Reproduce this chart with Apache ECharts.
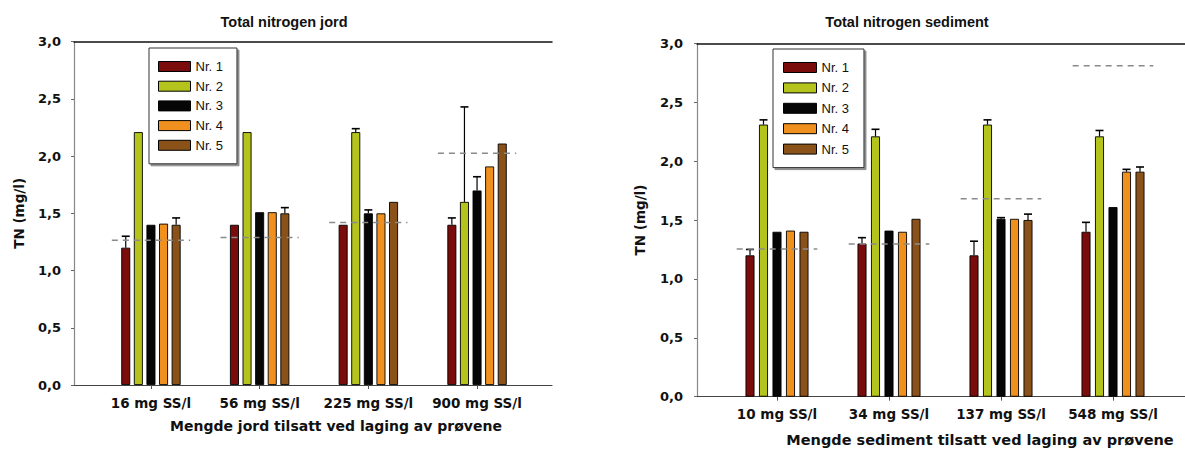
<!DOCTYPE html>
<html><head><meta charset="utf-8">
<script src="https://cdn.jsdelivr.net/npm/echarts@6/dist/echarts.min.js"></script>
<style>html,body{margin:0;padding:0;background:#fff}#c{width:1185px;height:450px}</style>
</head><body><div id="c"></div>
<script>
// ---------- DATA ----------
const seriesNames = ['Nr. 1', 'Nr. 2', 'Nr. 3', 'Nr. 4', 'Nr. 5'];
const jordCategories = ['16 mg SS/l', '56 mg SS/l', '225 mg SS/l', '900 mg SS/l'];
const sedCategories = ['10 mg SS/l', '34 mg SS/l', '137 mg SS/l', '548 mg SS/l'];
const yTickValues = [0, 0.5, 1.0, 1.5, 2.0, 2.5, 3.0];

const jordNr1 = [1.20, 1.40, 1.40, 1.40];
const jordNr2 = [2.21, 2.21, 2.21, 1.60];
const jordNr3 = [1.40, 1.51, 1.50, 1.70];
const jordNr4 = [1.41, 1.51, 1.50, 1.91];
const jordNr5 = [1.40, 1.50, 1.60, 2.11];
const jordErr1 = [1.30, null, null, 1.46];
const jordErr2 = [null, null, 2.24, 2.43];
const jordErr3 = [null, null, 1.53, 1.82];
const jordErr4 = [null, null, null, null];
const jordErr5 = [1.46, 1.55, null, null];
const jordMean = [1.265, 1.29, 1.42, 2.025];

const sedNr1 = [1.20, 1.30, 1.20, 1.40];
const sedNr2 = [2.31, 2.21, 2.31, 2.21];
const sedNr3 = [1.40, 1.41, 1.51, 1.61];
const sedNr4 = [1.41, 1.40, 1.51, 1.91];
const sedNr5 = [1.40, 1.51, 1.50, 1.91];
const sedErr1 = [1.25, 1.35, 1.32, 1.48];
const sedErr2 = [2.35, 2.27, 2.35, 2.26];
const sedErr3 = [null, null, 1.52, null];
const sedErr4 = [null, null, null, 1.93];
const sedErr5 = [null, null, 1.55, 1.95];
const sedMean = [1.254, 1.296, 1.68, 2.81];

// ---------- STYLE ----------
const colors = ['#7a0c0c', '#b4c41c', '#060606', '#f0901e', '#8a5218'];
const BOLD = '"DejaVu Sans", sans-serif';
const ARIAL = '"Liberation Sans", Arial, sans-serif';

const jordVals = [jordNr1, jordNr2, jordNr3, jordNr4, jordNr5];
const jordErrs = [jordErr1, jordErr2, jordErr3, jordErr4, jordErr5];
const sedVals = [sedNr1, sedNr2, sedNr3, sedNr4, sedNr5];
const sedErrs = [sedErr1, sedErr2, sedErr3, sedErr4, sedErr5];

function yFmt(v) { return v.toFixed(1).replace('.', ','); }

function frameX(grid, top) {
  return {
    gridIndex: grid, type: 'value', min: 0, max: 1, position: top ? 'top' : 'bottom',
    axisLine: { show: true, onZero: false, lineStyle: { color: top ? '#111' : '#444', width: top ? 1.5 : 1.2 } },
    axisTick: { show: false }, axisLabel: { show: false }, splitLine: { show: false }
  };
}
function catX(grid, cats, margin, fs) {
  return {
    gridIndex: grid, type: 'category', data: cats,
    axisLine: { show: false },
    axisTick: { show: true, alignWithLabel: true, length: 4, lineStyle: { color: '#555' } },
    axisLabel: { interval: 0, hideOverlap: false, margin: margin, fontFamily: BOLD, fontWeight: 'bold', fontSize: fs, color: '#111' },
    splitLine: { show: false }
  };
}
function frameY(grid, gap, margin) {
  return {
    gridIndex: grid, type: 'value', min: 0, max: 3, interval: 0.5,
    axisLine: { show: true, onZero: false, lineStyle: { color: '#888', width: 1.2 } },
    axisTick: { show: true, length: 3, lineStyle: { color: '#666' } },
    axisLabel: { margin: margin, formatter: yFmt, fontFamily: BOLD, fontWeight: 'bold', fontSize: 13, color: '#111' },
    splitLine: { show: false },
    name: 'TN (mg/l)', nameLocation: 'middle', nameGap: gap,
    nameTextStyle: { fontFamily: BOLD, fontWeight: 'bold', fontSize: 13.5, color: '#111' }
  };
}
function hiddenY(grid) {
  return { gridIndex: grid, type: 'value', min: 0, max: 3, show: false };
}

function barSeries(vals, xi, yi, gap) {
  return vals.map((arr, k) => ({
    name: seriesNames[k], type: 'bar', xAxisIndex: xi, yAxisIndex: yi,
    data: arr, barWidth: 9, barGap: gap,
    itemStyle: { color: colors[k], borderColor: '#000', borderWidth: 0.9 },
    z: 3
  }));
}

function errSeries(vals, errs, xi, yi, pitch) {
  const data = [];
  errs.forEach((arr, k) => arr.forEach((t, i) => {
    if (t !== null) data.push([i, k, vals[k][i], t]);
  }));
  return {
    type: 'custom', xAxisIndex: xi, yAxisIndex: yi, z: 5,
    encode: { x: 0, y: [2, 3] },
    data: data,
    renderItem: function (params, api) {
      const i = api.value(0), k = api.value(1), v = api.value(2), t = api.value(3);
      const b = api.coord([i, v]), e = api.coord([i, t]);
      const x = b[0] + (k - 2) * pitch;
      return {
        type: 'group', children: [
          { type: 'line', shape: { x1: x, y1: b[1], x2: x, y2: e[1] }, style: { stroke: '#000', lineWidth: 1.2 } },
          { type: 'line', shape: { x1: x - 4, y1: e[1], x2: x + 4, y2: e[1] }, style: { stroke: '#000', lineWidth: 1.6 } }
        ]
      };
    }
  };
}

function meanSeries(means, xi, yi) {
  return {
    type: 'custom', xAxisIndex: xi, yAxisIndex: yi, z: 6,
    encode: { x: 0, y: 1 },
    data: means.map((m, i) => [i, m]),
    renderItem: function (params, api) {
      const c = api.coord([api.value(0), api.value(1)]);
      const half = api.size([1, 0])[0] * 0.36;
      return {
        type: 'line',
        shape: { x1: c[0] - half, y1: c[1], x2: c[0] + half, y2: c[1] },
        style: { stroke: '#8a8a8a', lineWidth: 1.5, lineDash: [6, 5] }
      };
    }
  };
}

function legendAt(left, top, gap, w, pad) {
  return {
    data: seriesNames, left: left, top: top, orient: 'vertical', icon: 'rect',
    itemWidth: w, itemHeight: 10, itemGap: gap, padding: pad,
    borderColor: '#333', borderWidth: 1, backgroundColor: '#fff',
    shadowColor: 'rgba(0,0,0,0.45)', shadowOffsetX: 2, shadowOffsetY: 2, shadowBlur: 0,
    itemStyle: { borderColor: '#000', borderWidth: 1 },
    textStyle: { fontFamily: ARIAL, fontSize: 13, color: '#111' },
    selectedMode: false
  };
}

function txt(x, y, s, fs, fam) {
  return {
    type: 'text', x: x, y: y, z: 10,
    style: { text: s, fontFamily: fam, fontWeight: 'bold', fontSize: fs, fill: '#111', align: 'center', verticalAlign: 'middle' }
  };
}

const chart = echarts.init(document.getElementById('c'), null, { renderer: 'svg' });
chart.setOption({
  animation: false,
  backgroundColor: '#fff',
  grid: [
    { left: 74, top: 41.7, width: 478, height: 343.3 },
    { left: 96.6, top: 41.7, width: 434.8, height: 343.3 },
    { left: 697, top: 43.3, width: 488, height: 353.4 },
    { left: 721, top: 43.3, width: 448, height: 353.4 }
  ],
  xAxis: [
    frameX(0, false), frameX(0, true), catX(1, jordCategories, 11, 13.5),
    frameX(2, false), frameX(2, true), catX(3, sedCategories, 10, 13.5)
  ],
  yAxis: [frameY(0, 48, 13), hiddenY(1), frameY(2, 50, 14), hiddenY(3)],
  legend: [
    legendAt(149, 48, 6.7, 32, [12, 14, 12, 9]),
    legendAt(773, 49, 7.4, 33, [12, 15, 12, 10])
  ],
  graphic: [
    txt(284, 22, 'Total nitrogen jord', 14.5, ARIAL),
    txt(907, 22, 'Total nitrogen sediment', 14.5, ARIAL),
    txt(336, 426, 'Mengde jord tilsatt ved laging av prøvene', 14, BOLD),
    txt(980, 440, 'Mengde sediment tilsatt ved laging av prøvene', 14.5, BOLD)
  ],
  series: [].concat(
    barSeries(jordVals, 2, 1, '40%'),
    barSeries(sedVals, 5, 3, '50%'),
    [errSeries(jordVals, jordErrs, 2, 1, 12.6), errSeries(sedVals, sedErrs, 5, 3, 13.5),
     meanSeries(jordMean, 2, 1), meanSeries(sedMean, 5, 3)]
  )
});
</script>
</body></html>
